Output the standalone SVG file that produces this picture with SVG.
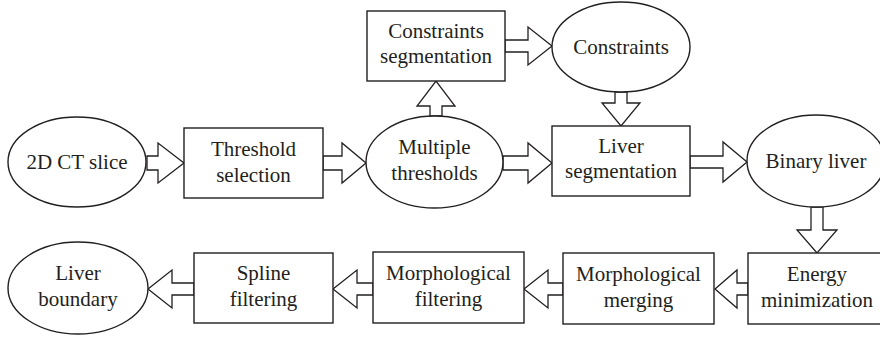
<svg xmlns="http://www.w3.org/2000/svg" width="880" height="339" viewBox="0 0 880 339">
<style>
.n{fill:#fff;stroke:#231f20;stroke-width:1.4}
.a{fill:#fff;stroke:#231f20;stroke-width:1.3;stroke-linejoin:miter}
text{font-family:"Liberation Serif","Times New Roman",serif;font-size:21px;fill:#231f20;text-anchor:middle}
</style>
<rect width="880" height="339" fill="#fff"/>
<g id="connectors">
<polygon class="a" points="147,156 158,156 158,143 184,163 158,183 158,170 147,170"/>
<polygon class="a" points="323,156 342,156 342,143 366,163 342,183 342,170 323,170"/>
<polygon class="a" points="503,156 528,156 528,143 552,163 528,183 528,170 503,170"/>
<polygon class="a" points="690,156 723,156 723,142 747,162 723,182 723,168 690,168"/>
<polygon class="a" points="430,116 430,106 417,106 436,81 455,106 442,106 442,116"/>
<polygon class="a" points="505,40 528,40 528,27 552,46 528,65 528,52 505,52"/>
<polygon class="a" points="615,92 615,103 602,103 621,126 640,103 627,103 627,92"/>
<polygon class="a" points="811,207 811,230 797,230 817,253 837,230 823,230 823,207"/>
<polygon class="a" points="748,283 737,283 737,270 715,289 737,308 737,295 748,295"/>
<polygon class="a" points="563,283 548,283 548,270 524,289 548,308 548,295 563,295"/>
<polygon class="a" points="373,283 357,283 357,270 333,289 357,308 357,295 373,295"/>
<polygon class="a" points="194,283 172,283 172,270 148,289 172,308 172,295 194,295"/>
</g>
<g id="ct-slice"><ellipse class="n" cx="77" cy="162" rx="69" ry="45"/><text x="77" y="169">2D CT slice</text></g>
<g id="threshold-selection"><rect class="n" x="184" y="128" width="139" height="70"/><text x="253.5" y="156">Threshold</text><text x="253.5" y="182">selection</text></g>
<g id="multiple-thresholds"><ellipse class="n" cx="434.5" cy="162" rx="68.5" ry="46"/><text x="434.5" y="154">Multiple</text><text x="434.5" y="180">thresholds</text></g>
<g id="constraints-segmentation"><rect class="n" x="367" y="11" width="138" height="70"/><text x="436" y="38">Constraints</text><text x="436" y="63">segmentation</text></g>
<g id="constraints"><ellipse class="n" cx="621" cy="47" rx="69" ry="45"/><text x="621" y="54">Constraints</text></g>
<g id="liver-segmentation"><rect class="n" x="552" y="126" width="138" height="70"/><text x="621" y="153">Liver</text><text x="621" y="178">segmentation</text></g>
<g id="binary-liver"><ellipse class="n" cx="816" cy="161" rx="69" ry="46"/><text x="816" y="168">Binary liver</text></g>
<g id="energy-minimization"><rect class="n" x="748" y="253" width="138" height="71"/><text x="817" y="281">Energy</text><text x="817" y="307">minimization</text></g>
<g id="morphological-merging"><rect class="n" x="563" y="253" width="151" height="71"/><text x="638.5" y="281">Morphological</text><text x="638.5" y="307">merging</text></g>
<g id="morphological-filtering"><rect class="n" x="373" y="252" width="151" height="71"/><text x="448.5" y="280">Morphological</text><text x="448.5" y="306">filtering</text></g>
<g id="spline-filtering"><rect class="n" x="194" y="253" width="139" height="70"/><text x="263.5" y="280">Spline</text><text x="263.5" y="306">filtering</text></g>
<g id="liver-boundary"><ellipse class="n" cx="78" cy="288" rx="70" ry="46"/><text x="78" y="280">Liver</text><text x="78" y="306">boundary</text></g>
</svg>
